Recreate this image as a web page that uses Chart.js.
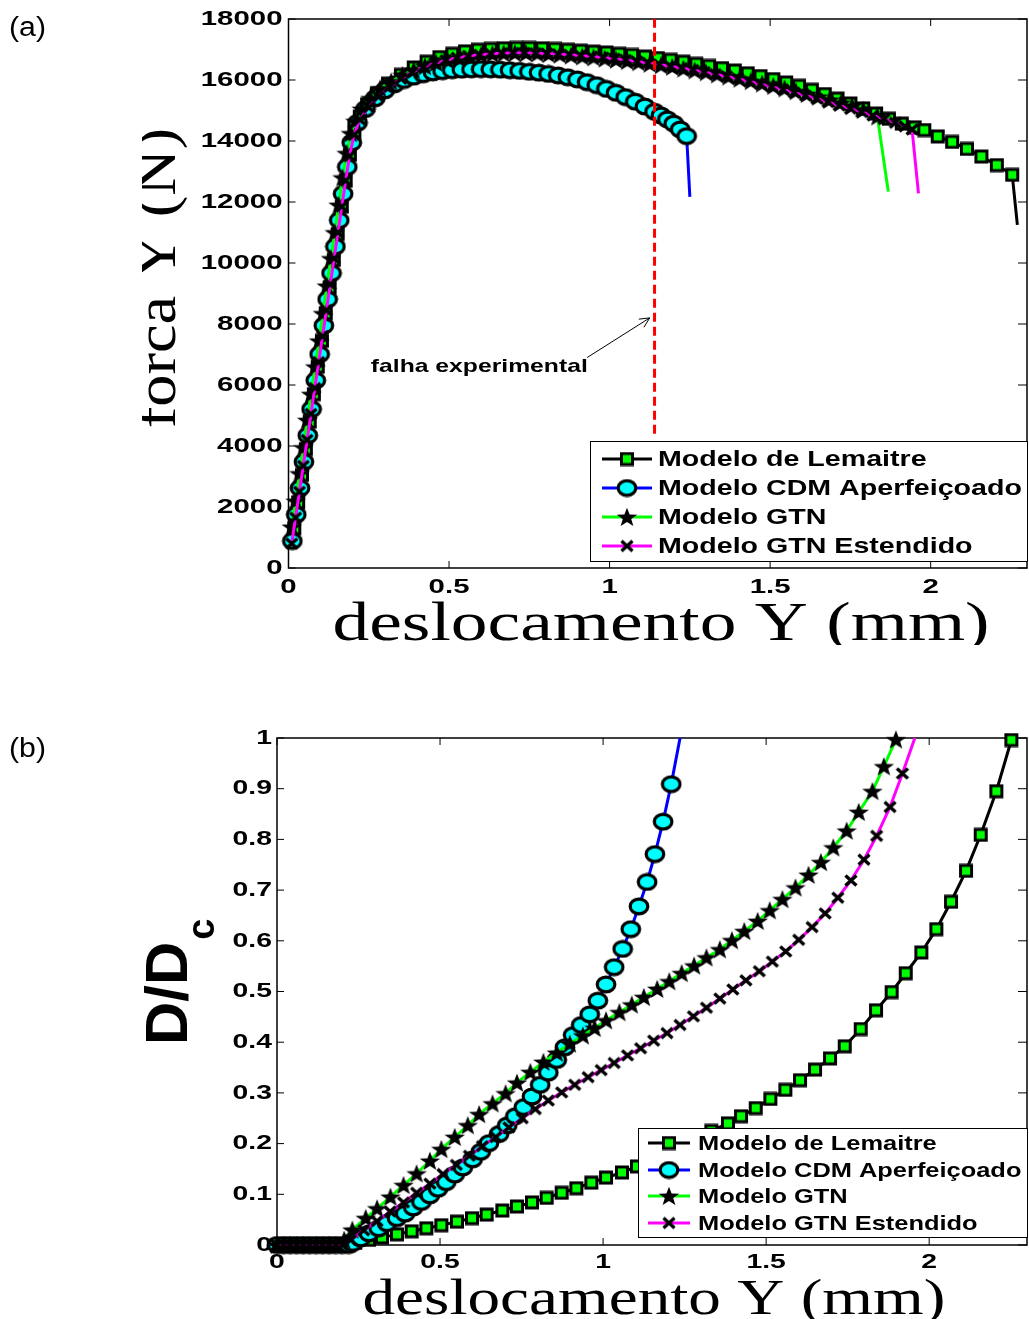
<!DOCTYPE html>
<html>
<head>
<meta charset="utf-8">
<script src="https://cdn.jsdelivr.net/npm/chart.js@4.4.0/dist/chart.umd.min.js"></script>
<style>
  html, body { margin: 0; padding: 0; background: #fff; overflow: hidden; width: 1029px; height: 1319px; }
  .panel { position: absolute; left: 0; }
  #panelA { top: 0; }
  #panelB { top: 660px; }
</style>
</head>
<body>
<div class="panel" id="panelA"><canvas id="chartA" width="1040" height="660"></canvas></div>
<div class="panel" id="panelB"><canvas id="chartB" width="1040" height="659"></canvas></div>
<script>
// ---------- series names and ticks ----------
const seriesNames = ['Modelo de Lemaitre', 'Modelo CDM Aperfeiçoado', 'Modelo GTN', 'Modelo GTN Estendido'];
const dispTicks = [0, 0.5, 1, 1.5, 2];
const forceTicks = [0, 2000, 4000, 6000, 8000, 10000, 12000, 14000, 16000, 18000];
const damageTicks = [0, 0.1, 0.2, 0.3, 0.4, 0.5, 0.6, 0.7, 0.8, 0.9, 1];

// ---------- (a) force vs displacement ----------
const lemaitreDispA = [0.018,0.030,0.042,0.054,0.066,0.079,0.091,0.104,0.116,0.128,0.141,0.153,0.166,0.178,0.191,0.205,0.222,0.245,0.275,
  0.310,0.350,0.390,0.430,0.470,0.510,0.550,0.590,0.630,0.670,0.710,0.750,0.790,0.830,0.870,0.910,0.950,0.990,1.030,1.070,
  1.110,1.150,1.190,1.230,1.270,1.310,1.350,1.390,1.430,1.470,1.510,1.550,1.590,1.630,1.670,1.710,1.750,1.790,1.830,1.870,
  1.910,1.950,1.980,2.022,2.067,2.113,2.158,2.206,2.254,2.270];
const lemaitreForceA = [1300,2150,3050,3900,4800,5700,6600,7450,8350,9200,10100,10950,11850,12700,13550,14300,14800,15200,15550,
  15880,16170,16410,16600,16750,16860,16940,16990,17020,17040,17050,17050,17040,17020,16990,16960,16930,16900,16860,16820,
  16770,16720,16660,16600,16530,16460,16390,16310,16220,16130,16030,15920,15810,15680,15540,15390,15230,15070,14900,14730,
  14570,14450,14360,14150,13970,13740,13490,13210,12890,11250];

const cdmDispA = [0.012,0.024,0.036,0.048,0.060,0.072,0.085,0.097,0.110,0.122,0.134,0.146,0.158,0.170,0.183,0.197,0.215,0.240,
  0.270,0.300,0.330,0.360,0.390,0.420,0.450,0.480,0.510,0.540,0.570,0.600,0.630,0.660,0.690,0.720,0.750,0.780,0.810,0.840,
  0.870,0.900,0.930,0.960,0.990,1.020,1.050,1.080,1.110,1.140,1.160,1.180,1.200,1.220,1.240,1.250];
const cdmForceA = [885,1750,2620,3480,4350,5210,6150,7010,7950,8810,9670,10540,11400,12270,13150,13950,14600,15050,
  15400,15660,15860,16000,16110,16190,16250,16290,16320,16340,16350,16355,16350,16340,16320,16300,16270,16240,16200,16150,
  16090,16020,15930,15830,15710,15580,15440,15290,15130,14960,14840,14710,14570,14380,14160,12170];

const gtnDispA = [0.010,0.022,0.034,0.046,0.058,0.070,0.083,0.095,0.107,0.119,0.132,0.144,0.156,0.168,0.181,0.194,0.208,0.228,0.255,0.285,
  0.320,0.355,0.390,0.425,0.460,0.495,0.530,0.565,0.600,0.635,0.670,0.705,0.740,0.775,0.810,0.845,0.880,0.915,0.950,0.985,
  1.020,1.055,1.090,1.125,1.160,1.195,1.230,1.265,1.300,1.335,1.370,1.405,1.440,1.475,1.510,1.545,1.580,1.615,1.650,1.685,
  1.720,1.755,1.790,1.834,1.868];
const gtnForceA = [1350,2200,3100,3950,4850,5700,6600,7450,8350,9250,10150,11000,11900,12800,13600,14250,14650,15050,15400,15720,
  15950,16160,16320,16450,16560,16650,16720,16780,16820,16850,16870,16880,16880,16870,16850,16830,16800,16770,16740,16700,
  16660,16620,16580,16530,16480,16430,16370,16310,16250,16180,16110,16040,15960,15880,15800,15720,15630,15540,15450,15350,
  15250,15150,15020,14800,12340];

const gtnExtDispA = [0.010,0.022,0.034,0.046,0.058,0.070,0.082,0.094,0.106,0.118,0.130,0.142,0.154,0.166,0.178,0.190,0.204,0.222,0.250,0.280,
  0.315,0.350,0.385,0.420,0.455,0.490,0.525,0.560,0.595,0.630,0.665,0.700,0.735,0.770,0.805,0.840,0.875,0.910,0.945,0.980,
  1.015,1.050,1.085,1.120,1.155,1.190,1.225,1.260,1.295,1.330,1.365,1.400,1.435,1.470,1.505,1.540,1.575,1.610,1.645,1.680,
  1.715,1.750,1.785,1.820,1.855,1.890,1.920,1.942,1.962];
const gtnExtForceA = [800,1650,2500,3350,4200,5050,5900,6750,7600,8450,9300,10150,11000,11850,12700,13500,14200,14700,15100,15450,
  15780,16040,16250,16420,16550,16650,16730,16790,16830,16860,16880,16890,16890,16880,16870,16850,16830,16800,16770,16740,
  16700,16660,16610,16560,16510,16450,16390,16330,16260,16190,16120,16040,15960,15870,15780,15690,15590,15490,15390,15280,
  15170,15060,14950,14840,14720,14600,14480,14380,12285];

// experimental failure marker and its annotation
const failureDisp = [1.14, 1.14];
const failureForce = [4400, 18000];
const failureLabel = 'falha experimental';
const failureArrow = { from: { x: 0.93, y: 6900 }, to: { x: 1.125, y: 8200 } };
const failureLabelAt = { x: 0.932, y: 6590 };

// ---------- (b) normalised damage vs displacement ----------
const lemaitreDispB = [0,0.02,0.04,0.06,0.08,0.10,0.12,0.14,0.16,0.18,0.20,0.22,0.24,
  0.282,0.322,0.368,0.413,0.458,0.504,0.552,0.598,0.643,0.691,0.736,0.782,0.827,0.873,0.918,0.964,1.009,1.058,1.104,1.150,
  1.195,1.241,1.287,1.332,1.383,1.423,1.468,1.513,1.559,1.604,1.650,1.696,1.741,1.790,1.837,1.885,1.928,1.976,2.022,2.067,
  2.113,2.158,2.206,2.252];
const lemaitreDamageB = [0,0,0,0,0,0,0,0,0,0,0,0,0.004,
  0.010,0.015,0.021,0.027,0.033,0.039,0.046,0.053,0.060,0.068,0.076,0.084,0.093,0.103,0.112,0.123,0.133,0.143,0.155,0.168,
  0.181,0.195,0.210,0.225,0.240,0.254,0.270,0.288,0.306,0.325,0.346,0.368,0.392,0.426,0.463,0.499,0.536,0.577,0.623,0.677,
  0.738,0.809,0.895,0.996];

const cdmDispB = [0,0.02,0.04,0.06,0.08,0.10,0.12,0.14,0.16,0.18,0.20,0.22,0.232,
  0.257,0.282,0.312,0.337,0.368,0.393,0.418,0.443,0.469,0.494,0.519,0.545,0.570,0.600,0.625,0.650,0.681,0.706,0.731,0.757,
  0.782,0.807,0.832,0.858,0.883,0.908,0.933,0.959,0.984,1.009,1.034,1.060,1.085,1.110,1.135,1.159,1.184,1.209,1.236];
const cdmDamageB = [0,0,0,0,0,0,0,0,0,0,0,0,0.004,
  0.013,0.023,0.033,0.043,0.053,0.062,0.074,0.085,0.098,0.111,0.124,0.139,0.153,0.169,0.184,0.201,0.219,0.236,0.254,0.272,
  0.293,0.316,0.340,0.365,0.390,0.414,0.434,0.455,0.482,0.514,0.548,0.584,0.623,0.668,0.716,0.771,0.835,0.909,1.000];

const gtnDispB = [0,0.02,0.04,0.06,0.08,0.10,0.12,0.14,0.16,0.18,
  0.206,0.231,0.272,0.307,0.348,0.388,0.428,0.469,0.504,0.545,0.585,0.620,0.661,0.701,0.736,0.777,0.817,0.858,0.898,0.938,
  0.974,1.009,1.050,1.088,1.125,1.166,1.203,1.241,1.279,1.317,1.358,1.395,1.433,1.474,1.511,1.550,1.590,1.630,1.668,1.706,
  1.747,1.784,1.826,1.861,1.898];
const gtnDamageB = [0,0,0,0,0,0,0,0,0,0,
  0.010,0.030,0.053,0.072,0.095,0.118,0.141,0.166,0.189,0.213,0.236,0.258,0.279,0.299,0.320,0.341,0.361,0.379,0.397,0.413,
  0.428,0.443,0.459,0.474,0.489,0.505,0.520,0.536,0.551,0.567,0.583,0.601,0.619,0.639,0.660,0.682,0.705,0.730,0.755,0.784,
  0.817,0.854,0.895,0.944,0.997];

const gtnExtDispB = [0,0.02,0.04,0.06,0.08,0.10,0.12,0.14,0.16,0.18,0.20,
  0.226,0.266,0.307,0.347,0.388,0.428,0.469,0.509,0.550,0.590,0.630,0.671,0.711,0.752,0.792,0.832,0.873,0.913,0.954,0.994,
  1.034,1.075,1.115,1.155,1.196,1.236,1.277,1.317,1.358,1.398,1.438,1.479,1.519,1.560,1.600,1.641,1.681,1.720,1.760,1.800,
  1.839,1.880,1.918,1.956];
const gtnExtDamageB = [0,0,0,0,0,0,0,0,0,0,0,
  0.010,0.029,0.047,0.066,0.084,0.103,0.121,0.140,0.158,0.176,0.195,0.213,0.232,0.250,0.268,0.285,0.301,0.316,0.331,0.345,
  0.359,0.374,0.388,0.403,0.418,0.434,0.451,0.468,0.486,0.504,0.522,0.540,0.559,0.579,0.602,0.627,0.654,0.685,0.719,0.760,
  0.807,0.864,0.930,1.000];

// ---------- styling ----------
const SANS = '"Liberation Sans", Arial, Helvetica, sans-serif';
const SERIF = '"Liberation Serif", "Times New Roman", serif';

function makeMarker(w, h, paint) {
  const c = document.createElement('canvas');
  c.width = w; c.height = h;
  paint(c.getContext('2d'));
  return c;
}
const markerSquare = makeMarker(16, 15, g => {
  g.fillStyle = '#00ff00'; g.fillRect(2.5, 2, 11, 11);
  g.strokeStyle = '#000'; g.lineWidth = 3; g.strokeRect(2.5, 2, 11, 11);
});
const markerCircle = makeMarker(22, 19, g => {
  g.beginPath(); g.ellipse(11, 9.5, 8.8, 7.3, 0, 0, Math.PI * 2);
  g.fillStyle = '#00ffff'; g.fill();
  g.lineWidth = 3.2; g.strokeStyle = '#000'; g.stroke();
});
const markerStar = makeMarker(22, 20, g => {
  g.beginPath();
  for (let k = 0; k < 10; k++) {
    const r = k % 2 ? 4.1 : 10;
    const ang = -Math.PI / 2 + k * Math.PI / 5;
    g.lineTo(11 + 1.08 * r * Math.cos(ang), 10.8 + r * Math.sin(ang));
  }
  g.closePath(); g.fillStyle = '#000'; g.fill();
});
const markerCross = makeMarker(16, 15, g => {
  g.strokeStyle = '#000'; g.lineWidth = 3.4; g.beginPath();
  g.moveTo(2.5, 2.5); g.lineTo(13.5, 12.5);
  g.moveTo(13.5, 2.5); g.lineTo(2.5, 12.5);
  g.stroke();
});

const seriesStyle = [
  { color: '#000000', marker: markerSquare, order: 4 },
  { color: '#0000ff', marker: markerCircle, order: 3 },
  { color: '#00ff00', marker: markerStar, order: 2 },
  { color: '#ff00ff', marker: markerCross, order: 1 }
];

function pairs(xs, ys) { return xs.map((x, i) => ({ x: x, y: ys[i] })); }

// bareEnd: last sample is the load drop / end of curve, drawn without a marker
function series(k, xs, ys, bareEnd) {
  const st = seriesStyle[k];
  const n = xs.length;
  return {
    label: seriesNames[k],
    data: pairs(xs, ys),
    showLine: true,
    borderColor: st.color,
    borderWidth: 3,
    pointStyle: st.marker,
    pointRadius: ctx => (bareEnd && ctx.dataIndex === n - 1) ? 0 : 10,
    pointHoverRadius: 10,
    order: st.order,
    clip: false
  };
}

function stretchedText(ctx, text, x, y, sx, align) {
  ctx.save();
  ctx.translate(x, y);
  ctx.scale(sx, 1);
  ctx.textAlign = align;
  ctx.fillText(text, 0, 0);
  ctx.restore();
}

function framePlugin(p) {
  return {
    id: 'frame',
    beforeDatasetsDraw(chart) {
      const { ctx, chartArea: a, scales: { x, y } } = chart;
      ctx.save();
      ctx.strokeStyle = '#000';
      ctx.lineWidth = 1.5;
      ctx.strokeRect(a.left, a.top, a.right - a.left, a.bottom - a.top);
      ctx.lineWidth = 1;
      ctx.beginPath();
      p.xTicks.forEach(v => {
        const px = x.getPixelForValue(v);
        ctx.moveTo(px, a.bottom); ctx.lineTo(px, a.bottom - 7);
        ctx.moveTo(px, a.top); ctx.lineTo(px, a.top + 7);
      });
      p.yTicks.forEach(v => {
        const py = y.getPixelForValue(v);
        ctx.moveTo(a.left, py); ctx.lineTo(a.left + 7, py);
        ctx.moveTo(a.right, py); ctx.lineTo(a.right - 9, py);
      });
      ctx.stroke();
      ctx.restore();
    },
    afterDatasetsDraw(chart) {
      if (p.extra) p.extra(chart);
    },
    afterDraw(chart) {
      const { ctx, chartArea: a, scales: { x, y } } = chart;
      ctx.save();
      ctx.fillStyle = '#000';
      // tick labels
      ctx.font = p.tickFont;
      ctx.textBaseline = 'middle';
      p.yTicks.forEach(v => stretchedText(ctx, String(v), a.left - p.yLabelGap, y.getPixelForValue(v), p.tickStretch, 'right'));
      p.xTicks.forEach(v => stretchedText(ctx, String(v), x.getPixelForValue(v), a.bottom + p.xLabelOffset, p.tickStretch, 'center'));

      // x title (serif, widened to the axis title width)
      const xt = p.xTitle;
      ctx.save();
      if (xt.clipBottom) { ctx.beginPath(); ctx.rect(0, 0, chart.width, xt.clipBottom); ctx.clip(); }
      ctx.font = xt.font;
      ctx.textBaseline = 'alphabetic';
      const w = ctx.measureText(xt.text).width;
      stretchedText(ctx, xt.text, xt.cx, xt.baseline, xt.width / w, 'center');
      ctx.restore();

      // y title
      p.yTitle(ctx);

      // panel tag
      ctx.font = p.tagFont;
      ctx.textBaseline = 'alphabetic';
      stretchedText(ctx, p.tag, p.tagPos[0], p.tagPos[1], 1.12, 'left');

      // legend
      const L = p.legend;
      ctx.fillStyle = '#fff';
      ctx.fillRect(L.box[0], L.box[1], L.box[2], L.box[3]);
      ctx.strokeStyle = '#000';
      ctx.lineWidth = 1;
      ctx.strokeRect(L.box[0] + 0.5, L.box[1] + 0.5, L.box[2], L.box[3]);
      ctx.font = L.font;
      ctx.textBaseline = 'middle';
      seriesNames.forEach((name, k) => {
        const st = seriesStyle[k];
        const ry = L.rows[k];
        ctx.strokeStyle = st.color;
        ctx.lineWidth = 3;
        ctx.beginPath(); ctx.moveTo(L.lineX[0], ry); ctx.lineTo(L.lineX[1], ry); ctx.stroke();
        const m = st.marker;
        ctx.drawImage(m, (L.lineX[0] + L.lineX[1]) / 2 - m.width / 2, ry - m.height / 2);
        ctx.fillStyle = '#000';
        stretchedText(ctx, name, L.textX, ry + 1, L.stretch, 'left');
      });
      ctx.restore();
    }
  };
}

function baseOptions(pad, xMax, yMax) {
  return {
    responsive: false,
    animation: false,
    devicePixelRatio: 1,
    events: [],
    layout: { padding: pad },
    plugins: { legend: { display: false }, tooltip: { enabled: false } },
    scales: {
      x: { type: 'linear', min: 0, max: xMax, display: false },
      y: { type: 'linear', min: 0, max: yMax, display: false }
    }
  };
}

// ---------- chart (a) ----------
const panelA = {
  tag: '(a)', tagPos: [9, 36], tagFont: '27px ' + SANS,
  xTicks: dispTicks, yTicks: forceTicks,
  tickFont: 'bold 21px ' + SANS, tickStretch: 1.4, yLabelGap: 6, xLabelOffset: 19,
  xTitle: { text: 'deslocamento Y (mm)', font: '54px ' + SERIF, cx: 661, baseline: 640, width: 657, clipBottom: 645 },
  yTitle(ctx) {
    ctx.save();
    ctx.beginPath(); ctx.rect(142, 0, 200, 660); ctx.clip();
    ctx.translate(175, 278);
    ctx.rotate(-Math.PI / 2);
    ctx.scale(1.15, 1);
    ctx.font = '56px ' + SERIF;
    ctx.textAlign = 'center';
    ctx.textBaseline = 'alphabetic';
    ctx.fillStyle = '#000';
    ctx.fillText('forca Y (N)', 0, 0);
    ctx.restore();
  },
  legend: { box: [590, 441, 437, 120], lineX: [602, 652], textX: 658, rows: [459, 488, 517, 546], font: 'bold 22px ' + SANS, stretch: 1.3 },
  extra(chart) {
    const { ctx, scales: { x, y } } = chart;
    ctx.save();
    const fx = x.getPixelForValue(failureArrow.from.x), fy = y.getPixelForValue(failureArrow.from.y);
    const tx = x.getPixelForValue(failureArrow.to.x), ty = y.getPixelForValue(failureArrow.to.y);
    ctx.strokeStyle = '#000'; ctx.lineWidth = 1;
    ctx.beginPath(); ctx.moveTo(fx, fy); ctx.lineTo(tx, ty);
    const ang = Math.atan2(ty - fy, tx - fx);
    [0.45, -0.45].forEach(d => {
      ctx.moveTo(tx, ty);
      ctx.lineTo(tx - 11 * Math.cos(ang + d), ty - 11 * Math.sin(ang + d));
    });
    ctx.stroke();
    ctx.fillStyle = '#000';
    ctx.font = 'bold 19px ' + SANS;
    ctx.textBaseline = 'middle';
    stretchedText(ctx, failureLabel, x.getPixelForValue(failureLabelAt.x), y.getPixelForValue(failureLabelAt.y), 1.3, 'right');
    ctx.restore();
  }
};

new Chart(document.getElementById('chartA'), {
  type: 'scatter',
  data: {
    datasets: [
      series(0, lemaitreDispA, lemaitreForceA, true),
      series(1, cdmDispA, cdmForceA, true),
      series(2, gtnDispA, gtnForceA, true),
      series(3, gtnExtDispA, gtnExtForceA, true),
      {
        label: failureLabel,
        data: pairs(failureDisp, failureForce),
        showLine: true,
        borderColor: '#ff0000',
        borderWidth: 3,
        borderDash: [9, 5],
        pointRadius: 0,
        order: 0
      }
    ]
  },
  options: baseOptions({ left: 288.5, top: 19, right: 4, bottom: 92 }, 2.3, 18000),
  plugins: [framePlugin(panelA)]
});

// ---------- chart (b) ----------
const panelB = {
  tag: '(b)', tagPos: [9, 97], tagFont: '27px ' + SANS,
  xTicks: dispTicks, yTicks: damageTicks,
  tickFont: 'bold 21px ' + SANS, tickStretch: 1.35, yLabelGap: 5, xLabelOffset: 17,
  xTitle: { text: 'deslocamento Y (mm)', font: '50px ' + SERIF, cx: 654, baseline: 654, width: 583 },
  yTitle(ctx) {
    ctx.save();
    ctx.translate(187, 385);
    ctx.rotate(-Math.PI / 2);
    ctx.fillStyle = '#000';
    ctx.textAlign = 'left';
    ctx.textBaseline = 'alphabetic';
    ctx.font = 'bold 60px ' + SANS;
    ctx.fillText('D/D', 0, 0);
    const w = ctx.measureText('D/D').width;
    ctx.font = 'bold 38px ' + SANS;
    ctx.fillText('c', w + 2, 27);
    ctx.restore();
  },
  legend: { box: [638, 468, 389, 109], lineX: [648, 690], textX: 698, rows: [483, 510, 536, 563], font: 'bold 20.5px ' + SANS, stretch: 1.24 }
};

new Chart(document.getElementById('chartB'), {
  type: 'scatter',
  data: {
    datasets: [
      series(0, lemaitreDispB, lemaitreDamageB, false),
      series(1, cdmDispB, cdmDamageB, true),
      series(2, gtnDispB, gtnDamageB, false),
      series(3, gtnExtDispB, gtnExtDamageB, true)
    ]
  },
  options: baseOptions({ left: 277, top: 78, right: 4, bottom: 74 }, 2.3, 1),
  plugins: [framePlugin(panelB)]
});
</script>
</body>
</html>
